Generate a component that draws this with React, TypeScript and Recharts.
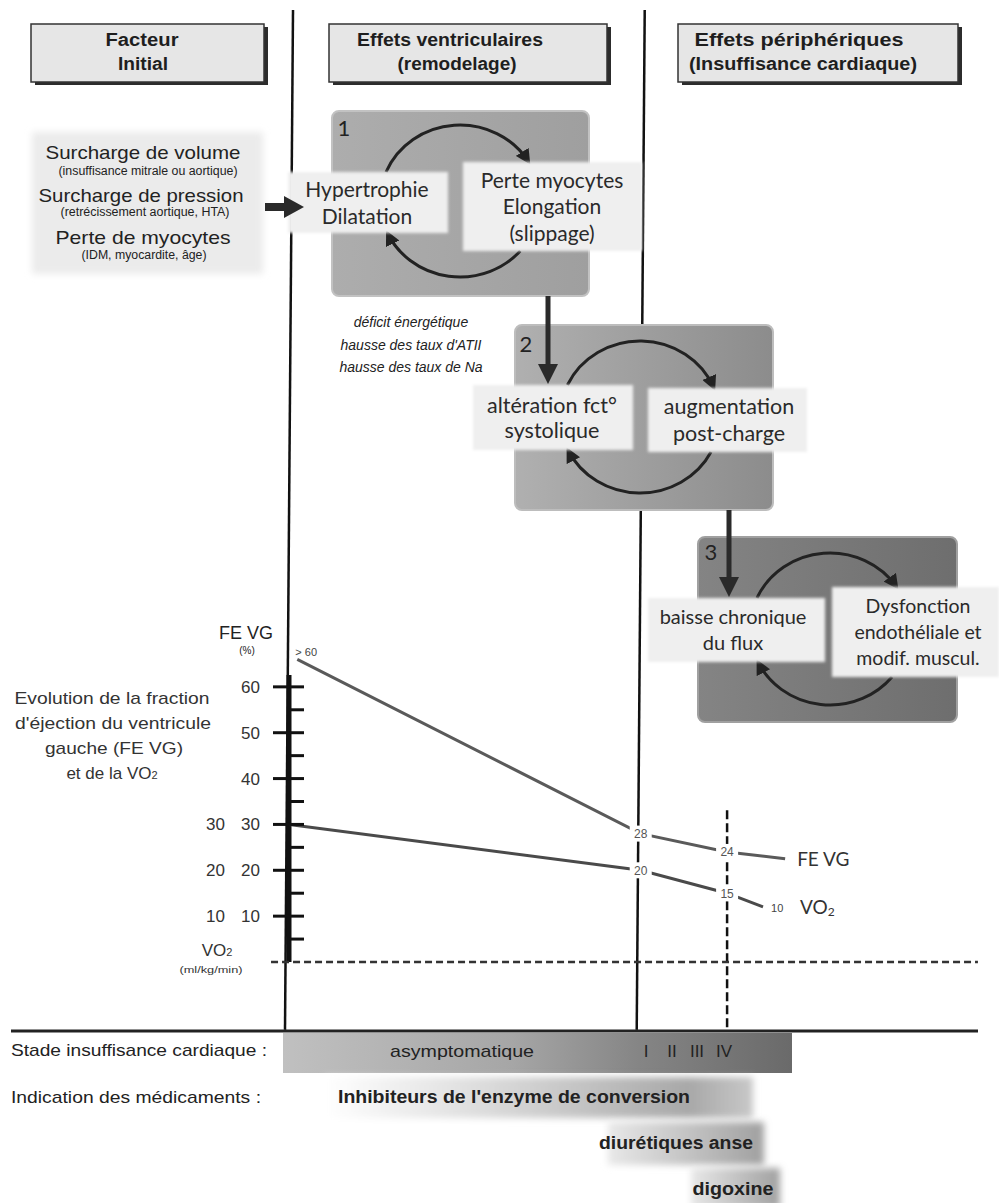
import React from 'react';
import { LineChart, Line, XAxis, YAxis, ReferenceLine, LabelList } from 'recharts';

// évolution FE VG / VO2 selon la progression (axe x arbitraire 0-100)
const feX = [1.2, 50.9, 63.4, 71.8];
const feVG = [66, 28, 24, 22.5];
const feLabels = ['> 60', '28', '24', ''];
const vo2X = [0, 50.9, 63.4, 68.6];
const vo2 = [30, 20, 15, 12];
const vo2Labels = ['', '20', '15', '10'];
const yTicks = [5, 10, 15, 20, 25, 30, 35, 40, 45, 50, 55, 60];
const vo2TickLabels = [10, 20, 30];
const stageLines = [0, 50.9]; // remodelage, insuffisance cardiaque
const stageIV = 63.4;

// extent of the divider lines, in y units (they run above and below the plot)
const lineTop = 207.6;
const lineBottom = -14.8;
const tilt = 0.58;

const SANS = '"Liberation Sans", Arial, sans-serif';
const NARROW = '"Liberation Sans Narrow", "Liberation Sans", Arial, sans-serif';
const HUMAN = 'Lato, "Open Sans", sans-serif';

const AxisTick = (props: any) => {
  const { x, y, payload } = props;
  const v = payload.value;
  const major = v % 10 === 0;
  return (
    <g>
      <line x1={major ? x - 16 : x} x2={x + 15} y1={y} y2={y} stroke="#111" strokeWidth={3} />
      {major && (
        <text x={x - 29} y={y + 6} textAnchor="end" fontSize={17} fontFamily={SANS} fill="#333">
          {v}
        </text>
      )}
      {vo2TickLabels.includes(v) && (
        <text x={x - 64} y={y + 6} textAnchor="end" fontSize={17} fontFamily={SANS} fill="#333">
          {v}
        </text>
      )}
    </g>
  );
};

const pointLabel = (series: 'fe' | 'vo2') => (props: any) => {
  const vb = props.viewBox || {};
  const x = props.x ?? vb.x;
  const y = props.y ?? vb.y;
  const { index, value } = props;
  const n = series === 'fe' ? feX.length : vo2X.length;
  if (x == null || y == null) return null;
  if (index === 0) {
    if (!value) return null;
    return (
      <text x={x - 2} y={y - 3} fontSize={11} fontFamily={SANS} fill="#444">
        {value}
      </text>
    );
  }
  if (index === n - 1) {
    if (series === 'fe') {
      return (
        <text x={x + 12} y={y + 7} fontSize={19} fontFamily={HUMAN} fill="#333">
          FE VG
        </text>
      );
    }
    return (
      <g>
        <text x={x + 8} y={y + 5} fontSize={11} fontFamily={SANS} fill="#444">
          {value}
        </text>
        <text x={x + 37} y={y + 7} fontSize={19} fontFamily={HUMAN} fill="#333">
          VO<tspan fontSize={12} dy={2}>2</tspan>
        </text>
      </g>
    );
  }
  return (
    <g>
      <rect x={x - 11} y={y - 8} width={22} height={16} fill="#fff" />
      <text x={x} y={y + 4.5} textAnchor="middle" fontSize={12} fontFamily={SANS} fill="#555">
        {value}
      </text>
    </g>
  );
};

type TP = {
  x: number;
  y: number;
  size: number;
  children: React.ReactNode;
  anchor?: string;
  family?: string;
  weight?: string | number;
  italic?: boolean;
  len?: number;
  fill?: string;
};
const T = ({ x, y, size, children, anchor = 'middle', family = SANS, weight, italic, len, fill = '#222' }: TP) => (
  <text
    x={x}
    y={y}
    fontSize={size}
    fontFamily={family}
    fontWeight={weight}
    fontStyle={italic ? 'italic' : undefined}
    textAnchor={anchor as any}
    fill={fill}
    textLength={len}
    lengthAdjust={len ? 'spacingAndGlyphs' : undefined}
  >
    {children}
  </text>
);

function Loop({ cx, cy, rx, ry, tl, tr, br, bl }: any) {
  const px = (y: number, side: number) => cx + side * rx * Math.sqrt(Math.max(0, 1 - ((y - cy) / ry) ** 2));
  const top = `M ${px(tl, -1)} ${tl} A ${rx} ${ry} 0 0 1 ${px(tr, 1)} ${tr}`;
  const bot = `M ${px(br, 1)} ${br} A ${rx} ${ry} 0 0 1 ${px(bl, -1)} ${bl}`;
  return (
    <g fill="none" stroke="#222" strokeWidth={3}>
      <path d={top} markerEnd="url(#head)" />
      <path d={bot} markerEnd="url(#head)" />
    </g>
  );
}

function SubBox({ x, y, w, h, cx, lines, size = 21, gap = 27 }: any) {
  const first = y + h / 2 - ((lines.length - 1) * gap) / 2;
  return (
    <g>
      <rect x={x} y={y} width={w} height={h} fill="#efefef" filter="url(#soft)" />
      {lines.map((l: string, i: number) => (
        <T key={l} x={cx} y={first + i * gap + size * 0.36} size={size} family={HUMAN} fill="#2a2a2a">
          {l}
        </T>
      ))}
    </g>
  );
}

function DownArrow({ x, y1, y2 }: any) {
  return (
    <g fill="#2a2a2a">
      <rect x={x - 2.5} y={y1} width={5} height={y2 - y1 - 18} />
      <polygon points={`${x - 10},${y2 - 20} ${x + 10},${y2 - 20} ${x},${y2}`} />
    </g>
  );
}

const headers = [
  { x: 31, w: 233, lines: [['Facteur', 142, 73], ['Initial', 143, 50]] },
  { x: 329, w: 278, lines: [['Effets ventriculaires', 450, 186], ['(remodelage)', 457, 119]] },
  { x: 678, w: 280, lines: [['Effets périphériques', 799, 209], ['(Insuffisance cardiaque)', 803, 228]] },
];

function Diagram() {
  return (
    <svg width={999} height={1203} style={{ position: 'absolute', left: 0, top: 0, pointerEvents: 'none' }}>
      <defs>
        <marker id="head" viewBox="0 0 10 10" refX="8" refY="5" markerWidth="5" markerHeight="5" orient="auto">
          <path d="M0,0 L10,5 L0,10 z" fill="#222" />
        </marker>
        <filter id="soft" x="-10%" y="-10%" width="120%" height="120%">
          <feGaussianBlur stdDeviation="1.5" />
        </filter>
        <filter id="softer" x="-10%" y="-20%" width="120%" height="140%">
          <feGaussianBlur stdDeviation="3.5" />
        </filter>
        <linearGradient id="g1" x1="0" x2="1" y1="0" y2="0">
          <stop offset="0" stopColor="#adadad" />
          <stop offset="1" stopColor="#9f9f9f" />
        </linearGradient>
        <linearGradient id="g2" x1="0" x2="1" y1="0" y2="0">
          <stop offset="0" stopColor="#b0b0b0" />
          <stop offset="1" stopColor="#8c8c8c" />
        </linearGradient>
        <linearGradient id="g3" x1="0" x2="1" y1="0" y2="0">
          <stop offset="0" stopColor="#848484" />
          <stop offset="1" stopColor="#6e6e6e" />
        </linearGradient>
        <linearGradient id="bar" x1="0" x2="1" y1="0" y2="0">
          <stop offset="0" stopColor="#c0c0c0" />
          <stop offset="0.45" stopColor="#a6a6a6" />
          <stop offset="0.7" stopColor="#858585" />
          <stop offset="1" stopColor="#6a6a6a" />
        </linearGradient>
        <linearGradient id="blob1" x1="0" x2="1" y1="0" y2="0">
          <stop offset="0" stopColor="#ffffff" />
          <stop offset="0.35" stopColor="#dedede" />
          <stop offset="0.85" stopColor="#a8a8a8" />
          <stop offset="1" stopColor="#c8c8c8" />
        </linearGradient>
        <linearGradient id="blob2" x1="0" x2="1" y1="0" y2="0">
          <stop offset="0" stopColor="#e8e8e8" />
          <stop offset="1" stopColor="#a0a0a0" />
        </linearGradient>
      </defs>

      {/* en-têtes */}
      {headers.map((h) => (
        <g key={h.x}>
          <rect x={h.x + 4} y={27} width={h.w} height={58} fill="#2c2c2c" />
          <rect x={h.x} y={24} width={h.w} height={58} fill="#e6e6e6" stroke="#333" strokeWidth={1.5} />
          {h.lines.map((l: any, i: number) => (
            <T key={l[0]} x={l[1]} y={46 + i * 24} size={18} family={NARROW} weight="bold" len={l[2]} fill="#1e1e1e">
              {l[0]}
            </T>
          ))}
        </g>
      ))}

      {/* facteur initial */}
      <rect x={32} y={132} width={231} height={142} fill="#ebebeb" filter="url(#softer)" />
      <T x={143} y={159} size={19} len={195}>Surcharge de volume</T>
      <T x={148} y={175} size={12} family={NARROW} len={179}>(insuffisance mitrale ou aortique)</T>
      <T x={141} y={202} size={19} len={205}>Surcharge de pression</T>
      <T x={145} y={216} size={12} family={NARROW} len={169}>(retrécissement aortique, HTA)</T>
      <T x={143} y={244} size={19} len={175}>Perte de myocytes</T>
      <T x={144} y={259} size={12} family={NARROW} len={125}>(IDM, myocardite, âge)</T>

      {/* cadres 1, 2, 3 */}
      <rect x={332} y={111} width={257} height={185} rx={7} fill="url(#g1)" stroke="#c2c2c2" strokeWidth={2} />
      <rect x={515} y={325} width={258} height={185} rx={7} fill="url(#g2)" stroke="#bdbdbd" strokeWidth={2} />
      <rect x={698} y={537} width={259} height={185} rx={7} fill="url(#g3)" stroke="#a0a0a0" strokeWidth={2} />
      <T x={344} y={136} size={22} family={HUMAN}>1</T>
      <T x={526} y={352} size={22} family={HUMAN}>2</T>
      <T x={711} y={560} size={22} family={HUMAN}>3</T>

      <Loop cx={460} cy={201} rx={80} ry={76} tl={172} tr={162} br={251} bl={233} />
      <Loop cx={640} cy={417} rx={80} ry={76} tl={385} tr={388} br={452} bl={450} />
      <Loop cx={830} cy={629} rx={80} ry={76} tl={598} tr={587} br={677} bl={662} />

      <SubBox x={288} y={172} w={160} h={61} cx={367} lines={['Hypertrophie', 'Dilatation']} />
      <SubBox x={463} y={162} w={179} h={89} cx={552} lines={['Perte myocytes', 'Elongation', '(slippage)']} gap={26.5} />
      <SubBox x={473} y={385} w={160} h={65} cx={552} lines={['altération fct°', 'systolique']} size={21.5} gap={25} />
      <SubBox x={648} y={388} w={159} h={64} cx={729} lines={['augmentation', 'post-charge']} size={21.5} gap={27} />
      <SubBox x={648} y={598} w={177} h={64} cx={733} lines={['baisse chronique', 'du flux']} size={20} gap={26} />
      <SubBox x={832} y={587} w={167} h={90} cx={918} lines={['Dysfonction', 'endothéliale et', 'modif. muscul.']} size={19.5} gap={26} />

      <T x={411} y={327} size={14} italic>déficit énergétique</T>
      <T x={411} y={350} size={14} italic>hausse des taux d'ATII</T>
      <T x={411} y={372} size={14} italic>hausse des taux de Na</T>

      <DownArrow x={548} y1={296} y2={384} />
      <DownArrow x={729} y1={510} y2={597} />
      <g fill="#2a2a2a">
        <rect x={265} y={203} width={22} height={8} />
        <polygon points="284,196 304,207 284,218" />
      </g>

      {/* légendes de l'axe */}
      <T x={246} y={639} size={18}>FE VG</T>
      <T x={247} y={654} size={10}>(%)</T>
      <T x={112} y={704} size={17} len={195} fill="#333">Evolution de la fraction</T>
      <T x={113} y={729} size={17} len={196} fill="#333">d'éjection du ventricule</T>
      <T x={114} y={754} size={17} len={138} fill="#333">gauche (FE VG)</T>
      <T x={112} y={779} size={17} fill="#333">
        et de la VO<tspan fontSize={11}>2</tspan>
      </T>
      <T x={217} y={956} size={17} fill="#333">
        VO<tspan fontSize={11}>2</tspan>
      </T>
      <T x={211} y={973} size={9} len={63} fill="#333">(ml/kg/min)</T>

      {/* bas */}
      <line x1={11} x2={978} y1={1031} y2={1031} stroke="#222" strokeWidth={3} />
      <rect x={283} y={1033} width={509} height={40} fill="url(#bar)" />
      <T x={139} y={1056} size={17} family={NARROW} len={256}>Stade insuffisance cardiaque :</T>
      <T x={462} y={1057} size={17} family={NARROW} len={144}>asymptomatique</T>
      <T x={646} y={1057} size={17} family={NARROW}>I</T>
      <T x={672} y={1057} size={17} family={NARROW}>II</T>
      <T x={697} y={1057} size={17} family={NARROW}>III</T>
      <T x={724} y={1057} size={17} family={NARROW}>IV</T>

      <T x={136} y={1103} size={17} family={NARROW} len={250}>Indication des médicaments :</T>
      <rect x={325} y={1077} width={428} height={41} fill="url(#blob1)" filter="url(#softer)" />
      <T x={514} y={1103} size={18} family={NARROW} weight="bold" len={352}>Inhibiteurs de l'enzyme de conversion</T>
      <rect x={608} y={1122} width={156} height={43} fill="url(#blob2)" filter="url(#softer)" />
      <T x={676} y={1149} size={18} family={NARROW} weight="bold" len={154}>diurétiques anse</T>
      <rect x={691} y={1168} width={89} height={40} fill="url(#blob2)" filter="url(#softer)" />
      <T x={733} y={1195} size={18} family={NARROW} weight="bold" len={81}>digoxine</T>
    </svg>
  );
}

export default function App() {
  const feData = feX.map((x, i) => ({ x, y: feVG[i], label: feLabels[i] }));
  const vo2Data = vo2X.map((x, i) => ({ x, y: vo2[i], label: vo2Labels[i] }));
  return (
    <div style={{ position: 'relative', width: 999, height: 1203, background: '#fff', overflow: 'hidden' }}>
      <style>{'body{margin:0}'}</style>
      <div style={{ position: 'absolute', left: 0, top: 0 }}>
        <LineChart width={999} height={1203} margin={{ top: 641, right: 19, bottom: 241, left: 229 }}>
          <XAxis type="number" dataKey="x" domain={[0, 100]} hide height={0} allowDataOverflow />
          <YAxis
            type="number"
            domain={[0, 70]}
            ticks={yTicks}
            interval={0}
            width={60}
            tickSize={0}
            tickMargin={0}
            axisLine={false}
            tickLine={false}
            tick={(p: any) => <AxisTick {...p} />}
            allowDataOverflow
          />
          {stageLines.map((s) => (
            <ReferenceLine
              key={s}
              segment={[
                { x: s + tilt, y: lineTop },
                { x: s - tilt, y: lineBottom },
              ]}
              stroke="#111"
              strokeWidth={2.5}
              ifOverflow="visible"
            />
          ))}
          <ReferenceLine
            segment={[
              { x: stageIV, y: 33.1 },
              { x: stageIV, y: lineBottom },
            ]}
            stroke="#111"
            strokeWidth={2.5}
            strokeDasharray="9 4"
            ifOverflow="visible"
          />
          <ReferenceLine
            segment={[
              { x: 0, y: 0 },
              { x: 0, y: 62.6 },
            ]}
            stroke="#111"
            strokeWidth={5}
            ifOverflow="visible"
          />
          <ReferenceLine
            segment={[
              { x: -2.6, y: 0 },
              { x: 99.7, y: 0 },
            ]}
            stroke="#333"
            strokeWidth={2.5}
            strokeDasharray="7 4"
            ifOverflow="visible"
          />
          <Line
            data={feData}
            dataKey="y"
            type="linear"
            stroke="#5a5a5a"
            strokeWidth={3}
            dot={false}
            isAnimationActive={false}
          >
            <LabelList dataKey="label" content={pointLabel('fe')} />
          </Line>
          <Line
            data={vo2Data}
            dataKey="y"
            type="linear"
            stroke="#4a4a4a"
            strokeWidth={3}
            dot={false}
            isAnimationActive={false}
          >
            <LabelList dataKey="label" content={pointLabel('vo2')} />
          </Line>
        </LineChart>
      </div>
      <Diagram />
    </div>
  );
}
